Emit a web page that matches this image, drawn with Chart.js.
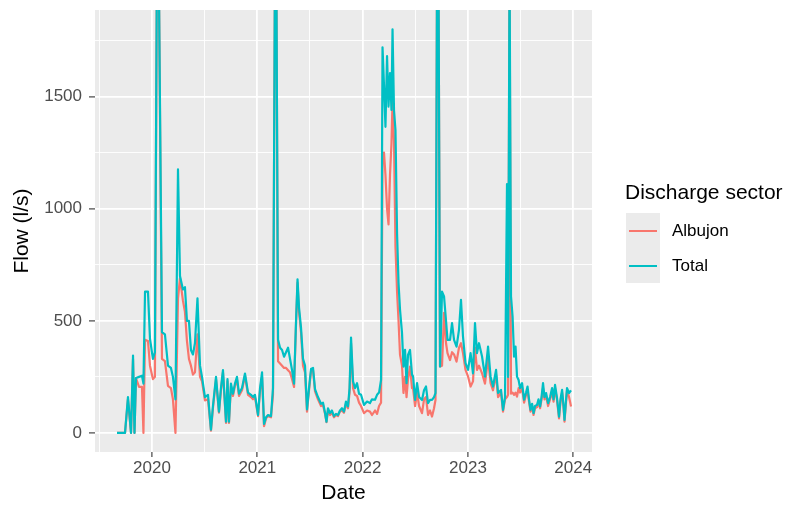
<!DOCTYPE html>
<html>
<head>
<meta charset="utf-8">
<title>Flow by discharge sector</title>
<script src="https://cdn.jsdelivr.net/npm/chart.js@4.4.0/dist/chart.umd.min.js"></script>
<style>
  html, body { margin: 0; padding: 0; background: #fff; }
  #wrap { position: relative; width: 792px; height: 507px; font-family: "Liberation Sans", Arial, sans-serif; }
  #flowChart { position: absolute; left: 0; top: 0; }
  #legendTitle { position: absolute; left: 625px; top: 181px; font-size: 21px; line-height: 21px; color: #000; white-space: nowrap; }
  #legendKeys { position: absolute; left: 626px; top: 213px; width: 34px; height: 70px; background: #EBEBEB; }
  .keyLine { position: absolute; left: 3px; width: 28px; height: 2px; }
  .keyLabel { position: absolute; left: 672px; font-size: 17px; line-height: 17px; color: #000; white-space: nowrap; }
</style>
</head>
<body>
<div id="wrap">
  <canvas id="flowChart" width="792" height="507"></canvas>
  <div id="legendTitle">Discharge sector</div>
  <div id="legendKeys">
    <div class="keyLine" style="top:17px;background:#F8766D"></div>
    <div class="keyLine" style="top:52px;background:#00BFC4"></div>
  </div>
  <div class="keyLabel" style="top:222px">Albujon</div>
  <div class="keyLabel" style="top:257px">Total</div>
</div>
<script>
// dates as decimal years
const dates = [
  2019.668, 2019.706, 2019.744, 2019.772, 2019.801, 2019.820, 2019.834, 2019.848, 2019.877, 2019.905,
  2019.919, 2019.934, 2019.962, 2019.981, 2020.009, 2020.028, 2020.047, 2020.066, 2020.095, 2020.123,
  2020.152, 2020.180, 2020.199, 2020.223, 2020.247, 2020.266, 2020.294, 2020.313, 2020.332, 2020.351,
  2020.370, 2020.389, 2020.408, 2020.432, 2020.456, 2020.475, 2020.503, 2020.532, 2020.560, 2020.579,
  2020.608, 2020.636, 2020.655, 2020.674, 2020.703, 2020.717, 2020.731, 2020.750, 2020.769, 2020.788,
  2020.807, 2020.826, 2020.855, 2020.883, 2020.912, 2020.940, 2020.959, 2020.978, 2021.007, 2021.026,
  2021.045, 2021.064, 2021.083, 2021.102, 2021.130, 2021.149, 2021.168, 2021.182, 2021.197, 2021.216,
  2021.235, 2021.254, 2021.273, 2021.292, 2021.311, 2021.330, 2021.349, 2021.368, 2021.382, 2021.396,
  2021.415, 2021.434, 2021.453, 2021.472, 2021.491, 2021.510, 2021.529, 2021.548, 2021.576, 2021.605,
  2021.624, 2021.643, 2021.657, 2021.671, 2021.690, 2021.709, 2021.728, 2021.747, 2021.766, 2021.785,
  2021.804, 2021.823, 2021.842, 2021.861, 2021.876, 2021.890, 2021.909, 2021.928, 2021.947, 2021.966,
  2021.985, 2022.013, 2022.042, 2022.070, 2022.089, 2022.118, 2022.137, 2022.156, 2022.175, 2022.189,
  2022.203, 2022.217, 2022.232, 2022.246, 2022.260, 2022.274, 2022.284, 2022.298, 2022.312, 2022.327,
  2022.341, 2022.355, 2022.374, 2022.388, 2022.403, 2022.417, 2022.431, 2022.450, 2022.469, 2022.479,
  2022.498, 2022.517, 2022.536, 2022.564, 2022.583, 2022.602, 2022.621, 2022.640, 2022.659, 2022.678,
  2022.692, 2022.707, 2022.721, 2022.735, 2022.754, 2022.773, 2022.792, 2022.806, 2022.830, 2022.849,
  2022.868, 2022.892, 2022.915, 2022.934, 2022.953, 2022.977, 2023.001, 2023.025, 2023.048, 2023.067,
  2023.086, 2023.105, 2023.134, 2023.162, 2023.191, 2023.215, 2023.238, 2023.267, 2023.286, 2023.314,
  2023.333, 2023.352, 2023.371, 2023.381, 2023.395, 2023.409, 2023.424, 2023.438, 2023.452, 2023.466,
  2023.481, 2023.495, 2023.514, 2023.533, 2023.552, 2023.566, 2023.580, 2023.594, 2023.609, 2023.623,
  2023.637, 2023.656, 2023.670, 2023.685, 2023.699, 2023.713, 2023.727, 2023.742, 2023.761, 2023.780,
  2023.799, 2023.813, 2023.827, 2023.846, 2023.865, 2023.879, 2023.894, 2023.908, 2023.917, 2023.932,
  2023.941, 2023.960, 2023.979
];

// flow, l/s
const total = [
  0, 0, 0, 160, 0, 345, 0, 245, 250, 255,
  220, 630, 630, 420, 330, 360, 2100, 2000, 450, 440,
  300, 290, 250, 150, 1175, 700, 640, 650, 500, 500,
  370, 350, 400, 600, 300, 250, 160, 170, 15, 120,
  250, 95, 200, 280, 50, 240, 50, 220, 175, 220,
  250, 175, 200, 265, 180, 170, 160, 170, 80, 200,
  270, 40, 70, 80, 75, 200, 2100, 1950, 415, 380,
  370, 340, 360, 380, 330, 280, 220, 500, 685, 560,
  470, 330, 300, 105, 200, 285, 290, 195, 160, 130,
  135, 90, 50, 110, 88, 100, 75, 85, 80, 100,
  110, 95, 140, 118, 200, 425, 230, 200, 222, 175,
  170, 125, 140, 133, 150, 148, 170, 180, 236, 1720,
  1550, 1365, 1680, 1455, 1605, 1440, 1800, 1440, 1350, 890,
  670, 550, 446, 296, 370, 222, 348, 370, 260, 252,
  147, 222, 160, 147, 190, 207, 133, 147, 147, 160,
  178, 2100, 2000, 296, 630, 609, 500, 415, 415, 490,
  415, 385, 460, 593, 430, 311, 281, 356, 266, 490,
  356, 400, 341, 251, 385, 251, 207, 281, 178, 192,
  103, 160, 1110, 250, 2100, 609, 518, 340, 385, 251,
  236, 200, 222, 148, 180, 207, 150, 103, 130, 88,
  120, 125, 150, 118, 160, 222, 160, 178, 133, 160,
  200, 150, 214, 155, 73, 150, 192, 120, 58, 150,
  200, 178, 190
];

const albujon = [
  0, 0, 0, 150, 0, 330, 0, 245, 205, 205,
  0, 415, 410, 300, 240, 250, 2100, 2000, 330, 320,
  210, 200, 150, 0, 600, 690, 590, 540, 410, 330,
  300, 260, 270, 440, 250, 230, 145, 150, 10, 110,
  240, 90, 190, 270, 45, 230, 45, 210, 165, 210,
  240, 165, 190, 255, 170, 160, 150, 160, 75, 190,
  250, 30, 65, 75, 70, 170, 2100, 1950, 320, 310,
  300, 290, 290, 280, 270, 240, 205, 490, 670, 540,
  450, 300, 270, 95, 190, 275, 280, 185, 150, 120,
  125, 85, 48, 100, 80, 90, 70, 80, 75, 95,
  100, 90, 130, 110, 180, 400, 200, 170, 165, 135,
  120, 88, 100, 95, 80, 100, 85, 120, 135, 1200,
  1250, 1150, 1000, 930, 1150, 1290, 1480, 1300, 830, 630,
  500, 350, 300, 178, 250, 160, 240, 296, 200, 200,
  120, 180, 120, 88, 150, 160, 80, 100, 73, 110,
  147, 2100, 2000, 296, 300, 535, 400, 356, 325, 360,
  350, 318, 380, 400, 356, 281, 252, 207, 230, 380,
  281, 300, 266, 220, 330, 222, 190, 260, 160, 180,
  95, 150, 160, 170, 2100, 175, 180, 170, 180, 162,
  200, 180, 200, 135, 170, 190, 140, 95, 120, 80,
  110, 115, 140, 110, 150, 200, 150, 165, 120, 150,
  185, 140, 200, 145, 65, 140, 180, 110, 50, 140,
  190, 160, 118
];

const yearTicks = [2020, 2021, 2022, 2023, 2024];
const flowTicks = [0, 500, 1000, 1500];

const ALB_COLOR = '#F8766D';
const TOT_COLOR = '#00BFC4';
const FONT = '"Liberation Sans", Arial, sans-serif';

const X_MIN = 2019.459, X_MAX = 2024.178;
const Y_MIN = -85, Y_MAX = 1886;

// majors plus ggplot-style minor lines halfway between them
function withMinor(majors, lo, hi) {
  const step = majors[1] - majors[0];
  const out = [];
  majors.forEach(v => { out.push(v - step / 2, v); });
  out.push(majors[majors.length - 1] + step / 2);
  return out.filter(v => v >= lo && v <= hi);
}

const isMajorX = v => yearTicks.includes(v);
const isMajorY = v => flowTicks.includes(v);

const panelBg = {
  id: 'panelBg',
  beforeDraw(chart) {
    const { ctx, chartArea: a } = chart;
    ctx.save();
    ctx.fillStyle = '#EBEBEB';
    ctx.fillRect(a.left, a.top, a.right - a.left, a.bottom - a.top);
    ctx.restore();
  }
};

function toPoints(ys) {
  return dates.map((d, i) => ({ x: d, y: ys[i] }));
}

new Chart(document.getElementById('flowChart'), {
  type: 'line',
  data: {
    datasets: [
      { label: 'Albujon', data: toPoints(albujon), borderColor: ALB_COLOR, order: 2 },
      { label: 'Total', data: toPoints(total), borderColor: TOT_COLOR, order: 1 }
    ]
  },
  options: {
    responsive: false,
    animation: false,
    devicePixelRatio: 1,
    layout: { padding: { left: 0, right: 200, top: 10, bottom: 0 } },
    elements: {
      line: { borderWidth: 2.2, tension: 0, fill: false, borderJoinStyle: 'round' },
      point: { radius: 0, hoverRadius: 0 }
    },
    datasets: { line: { clip: 0 } },
    plugins: { legend: { display: false }, tooltip: { enabled: false } },
    scales: {
      x: {
        type: 'linear',
        min: X_MIN,
        max: X_MAX,
        afterBuildTicks: s => { s.ticks = withMinor(yearTicks, X_MIN, X_MAX).map(v => ({ value: v })); },
        afterFit: s => { s.height = 55; s.paddingLeft = 0; s.paddingRight = 0; },
        border: { display: false },
        grid: {
          color: '#FFFFFF',
          lineWidth: c => isMajorX(c.tick.value) ? 1.8 : 0.9,
          tickColor: c => isMajorX(c.tick.value) ? '#333333' : 'rgba(0,0,0,0)',
          tickLength: 5,
          tickWidth: 1.1
        },
        ticks: {
          autoSkip: false, maxRotation: 0, minRotation: 0, padding: 1,
          color: '#4D4D4D', font: { family: FONT, size: 17 },
          callback: v => isMajorX(v) ? String(v) : ''
        },
        title: { display: true, text: 'Date', color: '#000', font: { family: FONT, size: 21 }, padding: { top: 0, bottom: 1 } }
      },
      y: {
        type: 'linear',
        min: Y_MIN,
        max: Y_MAX,
        afterBuildTicks: s => { s.ticks = withMinor(flowTicks, Y_MIN, Y_MAX).map(v => ({ value: v })); },
        afterFit: s => { s.width = 95; s.paddingTop = 0; s.paddingBottom = 0; },
        border: { display: false },
        grid: {
          color: '#FFFFFF',
          lineWidth: c => isMajorY(c.tick.value) ? 1.8 : 0.9,
          tickColor: c => isMajorY(c.tick.value) ? '#333333' : 'rgba(0,0,0,0)',
          tickLength: 6,
          tickWidth: 1.1
        },
        ticks: {
          autoSkip: false, padding: 7,
          color: '#4D4D4D', font: { family: FONT, size: 17 },
          callback: v => isMajorY(v) ? String(v) : ''
        },
        title: { display: true, text: 'Flow (l/s)', color: '#000', font: { family: FONT, size: 21 }, padding: { top: 10, bottom: 0 } }
      }
    }
  },
  plugins: [panelBg]
});
</script>
</body>
</html>
